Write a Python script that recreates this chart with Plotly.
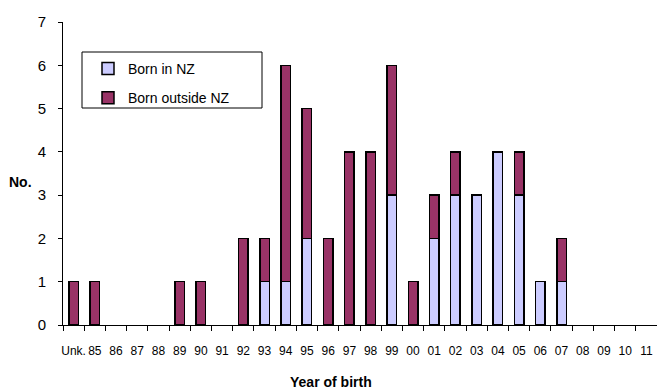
import plotly.graph_objects as go

categories = ["Unk.", "85", "86", "87", "88", "89", "90", "91", "92", "93", "94", "95", "96", "97",
              "98", "99", "00", "01", "02", "03", "04", "05", "06", "07", "08", "09", "10", "11"]
born_nz = [0, 0, 0, 0, 0, 0, 0, 0, 0, 1, 1, 2, 0, 0, 0, 3, 0, 2, 3, 3, 4, 3, 1, 1, 0, 0, 0, 0]
born_outside = [1, 1, 0, 0, 0, 1, 1, 0, 2, 1, 5, 3, 2, 4, 4, 3, 1, 1, 1, 0, 0, 1, 0, 1, 0, 0, 0, 0]

FONT = "Liberation Sans, Arial, sans-serif"

W, H = 657, 392
L, T = 63, 22
PW, PH = 594, 303


def px_x(x):  # pixel x -> paper
    return (x - L) / PW


def px_y(y):  # pixel y -> paper
    return (T + PH - y) / PH


def nz(v):
    return [None if a == 0 else a for a in v]


fig = go.Figure()
fig.add_trace(go.Bar(x=categories, y=nz(born_nz), name="Born in NZ", legendgroup="a",
                     marker=dict(color="#CCCCFF", line=dict(color="black", width=1.5))))
fig.add_trace(go.Bar(x=categories, y=nz(born_outside), name="Born outside NZ", legendgroup="b",
                     marker=dict(color="#993366", line=dict(color="black", width=1.5))))

fig.update_layout(
    barmode="stack",
    bargap=0.55,
    width=W, height=H,
    margin=dict(l=L, r=W - L - PW, t=T, b=H - T - PH, autoexpand=False),
    paper_bgcolor="white", plot_bgcolor="white",
    font=dict(family=FONT, color="black"),
    showlegend=True,
    legend=dict(x=px_x(88), y=px_y(53), xanchor="left", yanchor="top",
                bgcolor="rgba(0,0,0,0)", borderwidth=0,
                font=dict(size=14, family=FONT), tracegroupgap=8,
                traceorder="grouped", itemwidth=30),
    xaxis=dict(type="category", showline=True, linecolor="black", linewidth=1,
               ticks="outside", tickson="boundaries", ticklen=5, tickcolor="black",
               tickfont=dict(size=12, family=FONT), showgrid=False, tickangle=0,
               ticklabelstandoff=15),
    yaxis=dict(range=[0, 7], dtick=1, showline=True, linecolor="black", linewidth=1,
               ticks="outside", ticklen=4, tickcolor="black", showgrid=False,
               zeroline=False, tickfont=dict(size=15, family=FONT),
               ticklabelstandoff=9),
    shapes=[dict(type="rect", xref="paper", yref="paper",
                 x0=px_x(82), x1=px_x(262), y0=px_y(108), y1=px_y(52),
                 line=dict(color="black", width=1), fillcolor="rgba(0,0,0,0)")],
    annotations=[
        dict(text="<b>Year of birth</b>", xref="paper", yref="paper",
             x=px_x(331), y=px_y(382), xanchor="center", yanchor="middle",
             showarrow=False, font=dict(size=14, family=FONT)),
        dict(text="<b>No.</b>", xref="paper", yref="paper",
             x=px_x(20), y=px_y(182), xanchor="center", yanchor="middle",
             showarrow=False, font=dict(size=14, family=FONT)),
    ],
)

fig.write_html("out.html", config={"displayModeBar": False},
               post_script="document.body.style.margin='0';document.body.style.overflow='hidden';")
